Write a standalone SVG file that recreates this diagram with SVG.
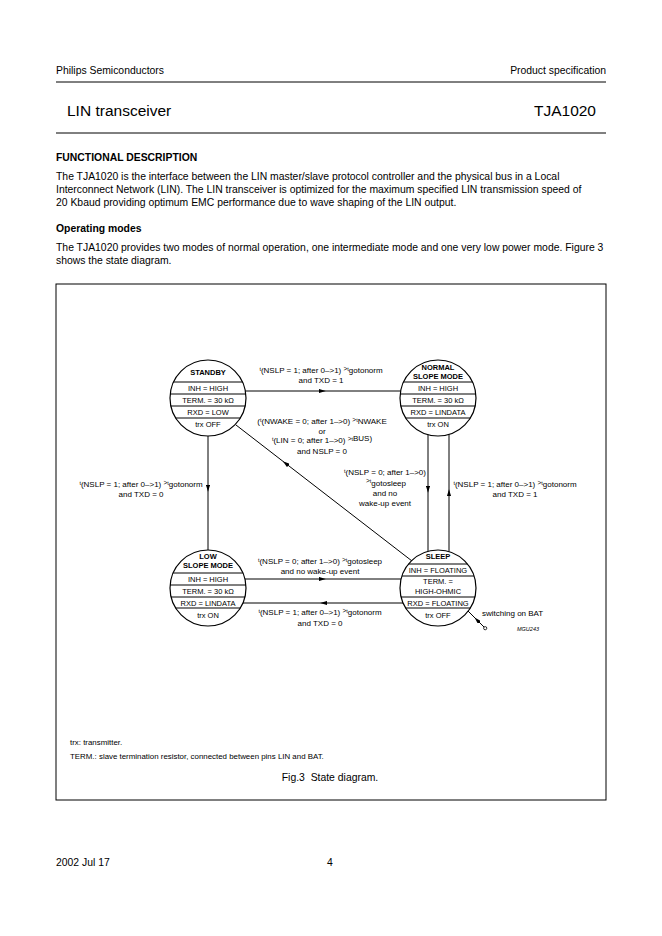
<svg xmlns="http://www.w3.org/2000/svg" width="662" height="936" viewBox="0 0 662 936">
<style>
text{font-family:"Liberation Sans",Arial,Helvetica,sans-serif;fill:#000}
.h{font-size:10.4px}
.hb{font-size:10.4px;font-weight:bold}
.big{font-size:15.5px}
.n{font-size:7.5px;text-anchor:middle}
.nb{font-size:7.5px;font-weight:bold;text-anchor:middle}
.l{font-size:8px;text-anchor:middle}
.s{font-size:5.5px}
.g{font-size:6.5px}
.ft{font-size:7.9px}
.ln{stroke:#000;stroke-width:1;fill:none}
.c{stroke:#000;stroke-width:1.2;fill:#fff}
.cl{stroke:#000;stroke-width:1;fill:none}
</style>
<defs>
<marker id="a" viewBox="0 0 10 6" refX="6" refY="3" markerWidth="7" markerHeight="4.2" orient="auto" markerUnits="userSpaceOnUse"><path d="M0 0 L10 3 L0 6 z" fill="#000"/></marker>
</defs>
<rect width="662" height="936" fill="#fff"/>

<g id="page">
<text class="h" x="56" y="73.5">Philips Semiconductors</text>
<text class="h" x="606" y="73.5" text-anchor="end">Product specification</text>
<line class="ln" x1="56" y1="82" x2="606" y2="82"/>
<text class="big" x="67" y="115.5">LIN transceiver</text>
<text class="big" x="596" y="115.5" text-anchor="end">TJA1020</text>
<line class="ln" x1="56" y1="133" x2="606" y2="133"/>
<text class="hb" x="56" y="160.5">FUNCTIONAL DESCRIPTION</text>
<text class="h" x="56" y="179.5">The TJA1020 is the interface between the LIN master/slave protocol controller and the physical bus in a Local</text>
<text class="h" x="56" y="192.5">Interconnect Network (LIN). The LIN transceiver is optimized for the maximum specified LIN transmission speed of</text>
<text class="h" x="56" y="205.5">20 Kbaud providing optimum EMC performance due to wave shaping of the LIN output.</text>
<text class="hb" x="56" y="231.5">Operating modes</text>
<text class="h" x="56" y="250.5">The TJA1020 provides two modes of normal operation, one intermediate mode and one very low power mode. Figure 3</text>
<text class="h" x="56" y="263.5">shows the state diagram.</text>
<rect x="56" y="284" width="550" height="516" fill="none" stroke="#000" stroke-width="1"/>
<text class="ft" x="70" y="744.5">trx: transmitter.</text>
<text class="ft" x="70" y="758.5">TERM.: slave termination resistor, connected between pins LIN and BAT.</text>
<text class="h" x="330" y="780.5" text-anchor="middle">Fig.3&#160; State diagram.</text>
<text class="h" x="56" y="865.5">2002 Jul 17</text>
<text class="h" x="330" y="865.5" text-anchor="middle">4</text>
</g>

<g id="connectors">
<path class="ln" d="M245.3 391 L323 391 L400.6 391" marker-mid="url(#a)"/>
<path class="ln" d="M208 436 L208 489 L208 550" marker-mid="url(#a)"/>
<path class="ln" d="M428 434.7 L428 490 L428 551.3" marker-mid="url(#a)"/>
<path class="ln" d="M449 551.6 L449 492 L449 434.4" marker-mid="url(#a)"/>
<path class="ln" d="M244.9 579 L323 579 L401.1 579" marker-mid="url(#a)"/>
<path class="ln" d="M403.1 603 L323 603 L242.9 603" marker-mid="url(#a)"/>
<path class="ln" d="M412 561 L285 462.9 L236 425" marker-mid="url(#a)"/>
<path class="ln" d="M484 627 L476.5 619.5 L468 611" marker-mid="url(#a)"/>
<circle cx="485.2" cy="628.2" r="1.6" fill="#fff" stroke="#000" stroke-width="0.8"/>
</g>

<g id="labels">
<text class="l" x="321" y="373"><tspan class="s" dy="-2.5">t</tspan><tspan dy="2.5">(NSLP = 1; after 0–&gt;1) </tspan><tspan class="g" dy="-2.5">&gt;</tspan><tspan class="s">t</tspan><tspan dy="2.5">gotonorm</tspan></text>
<text class="l" x="321" y="383">and TXD = 1</text>

<text class="l" x="322" y="424">(<tspan class="s" dy="-2.5">t</tspan><tspan dy="2.5">(NWAKE = 0; after 1–&gt;0) </tspan><tspan class="g" dy="-2.5">&gt;</tspan><tspan class="s">t</tspan><tspan dy="2.5">NWAKE</tspan></text>
<text class="l" x="322" y="433.5">or</text>
<text class="l" x="322" y="443"><tspan class="s" dy="-2.5">t</tspan><tspan dy="2.5">(LIN = 0; after 1–&gt;0) </tspan><tspan class="g" dy="-2.5">&gt;</tspan><tspan class="s">t</tspan><tspan>BUS)</tspan></text>
<text class="l" x="322" y="454">and NSLP = 0</text>

<text class="l" x="385" y="475"><tspan class="s" dy="-2.5">t</tspan><tspan dy="2.5">(NSLP = 0; after 1–&gt;0)</tspan></text>
<text class="l" x="386" y="486"><tspan class="g" dy="-3">&gt;</tspan><tspan class="s">t</tspan><tspan dy="3">gotosleep</tspan></text>
<text class="l" x="385" y="496">and no</text>
<text class="l" x="385" y="506">wake-up event</text>

<text class="l" x="141" y="487"><tspan class="s" dy="-2.5">t</tspan><tspan dy="2.5">(NSLP = 1; after 0–&gt;1) </tspan><tspan class="g" dy="-2.5">&gt;</tspan><tspan class="s">t</tspan><tspan dy="2.5">gotonorm</tspan></text>
<text class="l" x="141" y="497">and TXD = 0</text>

<text class="l" x="515" y="487"><tspan class="s" dy="-2.5">t</tspan><tspan dy="2.5">(NSLP = 1; after 0–&gt;1) </tspan><tspan class="g" dy="-2.5">&gt;</tspan><tspan class="s">t</tspan><tspan dy="2.5">gotonorm</tspan></text>
<text class="l" x="515" y="497">and TXD = 1</text>

<text class="l" x="320" y="564"><tspan class="s" dy="-2.5">t</tspan><tspan dy="2.5">(NSLP = 0; after 1–&gt;0) </tspan><tspan class="g" dy="-2.5">&gt;</tspan><tspan class="s">t</tspan><tspan dy="2.5">gotosleep</tspan></text>
<text class="l" x="320" y="574">and no wake-up event</text>

<text class="l" x="320" y="615"><tspan class="s" dy="-2.5">t</tspan><tspan dy="2.5">(NSLP = 1; after 0–&gt;1) </tspan><tspan class="g" dy="-2.5">&gt;</tspan><tspan class="s">t</tspan><tspan dy="2.5">gotonorm</tspan></text>
<text class="l" x="320" y="626">and TXD = 0</text>

<text x="482" y="616" font-size="8px">switching on BAT</text>
<text x="517" y="631" font-size="5.5px" font-style="italic">MGU243</text>
</g>

<g id="standby">
<circle class="c" cx="208" cy="398" r="38"/>
<line class="cl" x1="173.5" y1="382" x2="242.5" y2="382"/>
<line class="cl" x1="170.2" y1="394" x2="245.8" y2="394"/>
<line class="cl" x1="170.9" y1="406" x2="245.1" y2="406"/>
<line class="cl" x1="175.7" y1="418" x2="240.3" y2="418"/>
<text class="nb" x="208" y="374.7">STANDBY</text>
<text class="n" x="208" y="390.7">INH = HIGH</text>
<text class="n" x="208" y="402.7">TERM. = 30 kΩ</text>
<text class="n" x="208" y="414.7">RXD = LOW</text>
<text class="n" x="208" y="426.7">trx OFF</text>
</g>

<g id="normal">
<circle class="c" cx="438" cy="398" r="38"/>
<line class="cl" x1="403.5" y1="382" x2="472.5" y2="382"/>
<line class="cl" x1="400.2" y1="394" x2="475.8" y2="394"/>
<line class="cl" x1="400.9" y1="406" x2="475.1" y2="406"/>
<line class="cl" x1="405.7" y1="418" x2="470.3" y2="418"/>
<text class="nb" x="438" y="370">NORMAL</text>
<text class="nb" x="438" y="379.2">SLOPE MODE</text>
<text class="n" x="438" y="390.7">INH = HIGH</text>
<text class="n" x="438" y="402.7">TERM. = 30 kΩ</text>
<text class="n" x="438" y="414.7">RXD = LINDATA</text>
<text class="n" x="438" y="426.7">trx ON</text>
</g>

<g id="lowslope">
<circle class="c" cx="208" cy="588" r="38"/>
<line class="cl" x1="173.1" y1="573" x2="242.9" y2="573"/>
<line class="cl" x1="170.1" y1="585" x2="245.9" y2="585"/>
<line class="cl" x1="171.1" y1="597" x2="244.9" y2="597"/>
<line class="cl" x1="175.7" y1="608" x2="240.3" y2="608"/>
<text class="nb" x="208" y="559">LOW</text>
<text class="nb" x="208" y="568.2">SLOPE MODE</text>
<text class="n" x="208" y="581.7">INH = HIGH</text>
<text class="n" x="208" y="593.7">TERM. = 30 kΩ</text>
<text class="n" x="208" y="605.7">RXD = LINDATA</text>
<text class="n" x="208" y="617.7">trx ON</text>
</g>

<g id="sleep">
<circle class="c" cx="438" cy="588" r="38"/>
<line class="cl" x1="408.5" y1="564" x2="467.5" y2="564"/>
<line class="cl" x1="401.9" y1="576" x2="474.1" y2="576"/>
<line class="cl" x1="401.1" y1="597" x2="474.9" y2="597"/>
<line class="cl" x1="405.7" y1="608" x2="470.3" y2="608"/>
<text class="nb" x="438" y="559">SLEEP</text>
<text class="n" x="438" y="572.7">INH = FLOATING</text>
<text class="n" x="438" y="583.5">TERM. =</text>
<text class="n" x="438" y="593.5">HIGH-OHMIC</text>
<text class="n" x="438" y="605.5">RXD = FLOATING</text>
<text class="n" x="438" y="617.7">trx OFF</text>
</g>
</svg>
